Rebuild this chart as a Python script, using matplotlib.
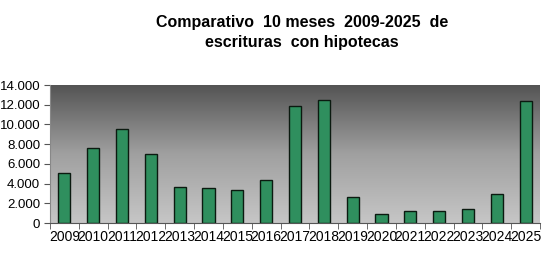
import numpy as np
import matplotlib.pyplot as plt
from matplotlib.colors import LinearSegmentedColormap
from matplotlib.ticker import FuncFormatter

years = ['2009', '2010', '2011', '2012', '2013', '2014', '2015', '2016', '2017',
         '2018', '2019', '2020', '2021', '2022', '2023', '2024', '2025']
escrituras = [5040, 7580, 9500, 7030, 3650, 3520, 3310, 4330, 11900,
              12440, 2600, 880, 1250, 1180, 1390, 2940, 12370]

plt.rcParams['font.family'] = ['Liberation Sans', 'DejaVu Sans']

fig = plt.figure(figsize=(5.54, 2.77), dpi=100)
ax = fig.add_axes([50 / 554, 54 / 277, 490 / 554, 138 / 277])

# degradado gris de fondo (claro abajo, oscuro arriba)
cmap = LinearSegmentedColormap.from_list('fondo', ['#c6c6c6', '#a0a0a0', '#545454'])
grad = np.linspace(0, 1, 256).reshape(-1, 1)
ax.imshow(grad, cmap=cmap, aspect='auto', origin='lower',
          extent=[0, 1, 0, 1], transform=ax.transAxes, zorder=0)

x = np.arange(len(years))
ax.bar(x, escrituras, width=0.42, color='#2f8f5e', edgecolor='#0b1a10',
       linewidth=1.0, zorder=2)

ax.set_xlim(-0.5, len(years) - 0.5)
ax.set_ylim(0, 14000)
ax.set_yticks(np.arange(0, 14001, 2000))
ax.yaxis.set_major_formatter(FuncFormatter(lambda v, p: f'{int(v):,}'.replace(',', '.')))
ax.set_xticks(x)
ax.set_xticklabels(years)
ax.set_xticks(np.arange(-0.5, len(years)), minor=True)
ax.tick_params(axis='x', which='major', length=0, labelsize=10, pad=5)
ax.tick_params(axis='x', which='minor', length=4, color='#555555')
ax.tick_params(axis='y', length=4, labelsize=9.5, color='#555555', pad=3)

for s in ['top', 'right']:
    ax.spines[s].set_visible(False)
ax.spines['left'].set_color('#888888')
ax.spines['bottom'].set_color('#555555')

fig.text(0.545, 0.945, 'Comparativo  10 meses  2009-2025  de\nescrituras  con hipotecas',
         ha='center', va='top', fontsize=11.5, fontweight='bold', linespacing=1.4)

fig.savefig('out.png', dpi=100)
